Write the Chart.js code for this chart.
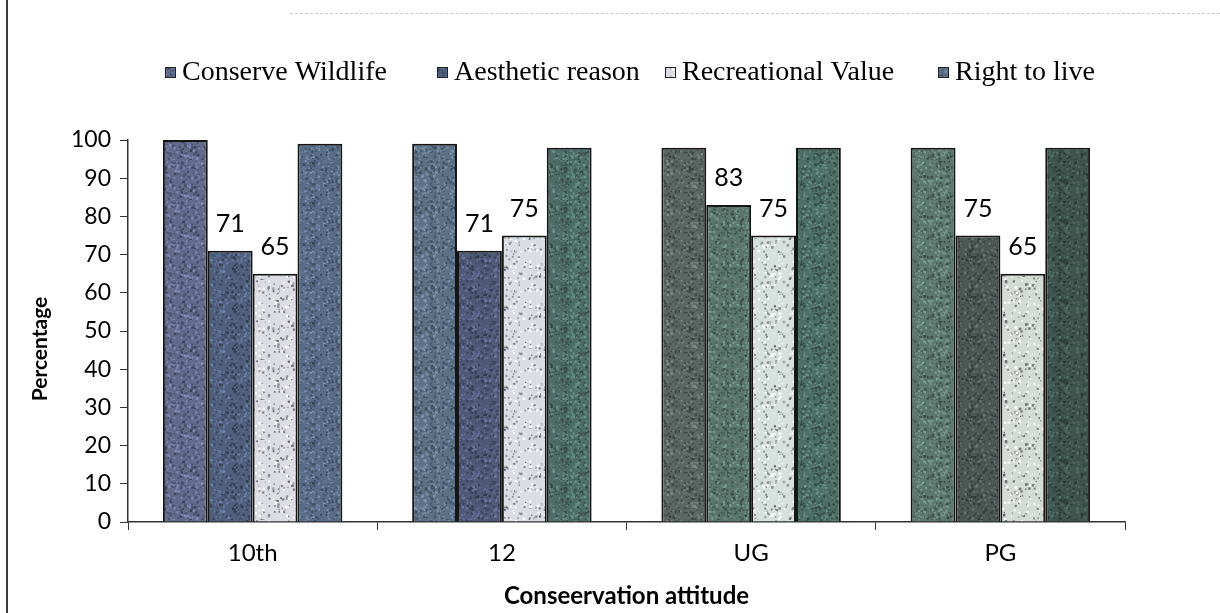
<!DOCTYPE html>
<html>
<head>
<meta charset="utf-8">
<script src="https://cdn.jsdelivr.net/npm/chart.js@4.4.1/dist/chart.umd.min.js"></script>
<style>
  html, body { margin: 0; padding: 0; background: #ffffff; }
  #wrap { position: relative; width: 1220px; height: 613px; overflow: hidden; }
  #edge { position: absolute; left: 6px; top: 0; width: 2px; height: 613px; background: #3a3a3a; }
  #topline { position: absolute; left: 290px; top: 13px; width: 930px; height: 0; border-top: 1px dashed #c8c8c8; }
  canvas { position: absolute; left: 0; top: 0; }
</style>
</head>
<body>
<div id="wrap">
  <canvas id="chart" width="1220" height="613"></canvas>
  <div id="edge"></div>
  <div id="topline"></div>
</div>
<script>
// Education levels on the x axis
const categories = ['10th', '12', 'UG', 'PG'];

// Percentage of respondents per reason
const conserveWildlife  = [100, 99, 98, 98];
const aestheticReason   = [71, 71, 83, 75];
const recreationalValue = [65, 75, 75, 65];
const rightToLive       = [99, 98, 98, 98];

const seriesNames = ['Conserve Wildlife', 'Aesthetic reason', 'Recreational Value', 'Right to live'];
const yTicks = [0, 10, 20, 30, 40, 50, 60, 70, 80, 90, 100];
const yTitle = 'Percentage';

// Base tints for each bar (rows = series, columns = categories)
const tints = [
  ['#626b8c', '#5d7186', '#5c6763', '#5c776d'],
  ['#4f5f7c', '#505a78', '#5b776d', '#4c5854'],
  ['#dcdde4', '#dadde4', '#d6e0dc', '#d4dbd5'],
  ['#5a6d88', '#4e6d67', '#4e6f65', '#3e544d']
];

// Deterministic speckle so the bars get a grainy print texture
function lcg(seed) {
  let s = seed >>> 0;
  return () => { s = (s * 1664525 + 1013904223) >>> 0; return s / 4294967296; };
}
function shade(hex, f) {
  const n = parseInt(hex.slice(1), 16);
  const r = (n >> 16) & 255, g = (n >> 8) & 255, b = n & 255;
  const m = c => Math.max(0, Math.min(255, Math.round(c * f)));
  return `rgb(${m(r)},${m(g)},${m(b)})`;
}
function speckle(base, seed, light) {
  const c = document.createElement('canvas');
  c.width = 40; c.height = 40;
  const x = c.getContext('2d');
  x.fillStyle = base; x.fillRect(0, 0, 40, 40);
  const rnd = lcg(seed);
  const count = light ? 90 : 220;
  for (let i = 0; i < count; i++) {
    const px = rnd() * 40, py = rnd() * 40, sz = 1 + rnd() * 1.6;
    const dark = rnd() < 0.55;
    x.fillStyle = light
      ? (dark ? shade(base, 0.45 + rnd() * 0.3) : '#ffffff')
      : (dark ? shade(base, 0.6 + rnd() * 0.25) : shade(base, 1.15 + rnd() * 0.25));
    x.fillRect(px, py, sz, sz);
  }
  return x.createPattern(c, 'repeat');
}
const ctx = document.getElementById('chart').getContext('2d');
const fills = tints.map((row, si) => row.map((t, ci) => speckle(t, 17 + si * 31 + ci * 7, si === 2)));

const allSeries = [conserveWildlife, aestheticReason, recreationalValue, rightToLive];
const labelled = [false, true, true, false];

// Value labels above the Aesthetic and Recreational bars
const valueLabels = {
  id: 'valueLabels',
  afterDatasetsDraw(chart) {
    const c = chart.ctx;
    c.save();
    c.font = '25px Lato';
    c.fillStyle = '#000';
    c.textAlign = 'center';
    c.textBaseline = 'middle';
    chart.data.datasets.forEach((ds, i) => {
      if (!labelled[i]) return;
      chart.getDatasetMeta(i).data.forEach((bar, j) => {
        c.fillText(String(ds.data[j]), bar.x, bar.y - 27);
      });
    });
    c.restore();
  }
};

// Legend row in serif type with small square keys, plus the rotated y title
const legendStarts = [165, 437, 665, 938];
const serifLegend = {
  id: 'serifLegend',
  afterDraw(chart) {
    const c = chart.ctx;
    c.save();
    c.font = '28px "Liberation Serif"';
    c.textBaseline = 'middle';
    c.textAlign = 'left';
    const y = 72;
    seriesNames.forEach((name, i) => {
      const x = legendStarts[i];
      c.fillStyle = speckle(tints[i][0], 99 + i, i === 2);
      c.fillRect(x, y - 5, 11, 11);
      c.strokeStyle = '#222';
      c.lineWidth = 1;
      c.strokeRect(x + 0.5, y - 4.5, 10, 10);
      c.fillStyle = '#000';
      c.fillText(name, x + 17, y + 1);
    });
    c.translate(40, 349);
    c.rotate(-Math.PI / 2);
    c.textAlign = 'center';
    c.font = 'bold 21px Lato';
    c.fillText(yTitle, 0, 0);
    c.restore();
  }
};

new Chart(ctx, {
  type: 'bar',
  data: {
    labels: categories,
    datasets: allSeries.map((vals, i) => ({
      label: seriesNames[i],
      data: vals,
      backgroundColor: fills[i],
      borderColor: '#161616',
      borderWidth: 2,
      borderSkipped: 'bottom',
      categoryPercentage: 0.72,
      barPercentage: 1.0
    }))
  },
  options: {
    responsive: false,
    animation: false,
    layout: { padding: { top: 140, right: 95, bottom: 0, left: 0 } },
    plugins: {
      legend: { display: false },
      tooltip: { enabled: false }
    },
    scales: {
      x: {
        grid: { display: true, drawOnChartArea: false, drawTicks: true, tickLength: 8, color: '#333', offset: true },
        border: { display: true, color: '#333', width: 1.5 },
        ticks: { color: '#000', font: { family: 'Lato', size: 24 }, padding: 9 },
        title: { display: true, text: 'Conseervation attitude', color: '#000',
                 font: { family: 'Lato', size: 24, weight: 'bold' }, padding: { top: 0, bottom: 2 } },
        afterFit(scale) { scale.height = 91; }
      },
      y: {
        min: 0, max: 100,
        afterBuildTicks(scale) { scale.ticks = yTicks.map(v => ({ value: v })); },
        grid: { display: true, drawOnChartArea: false, drawTicks: true, tickLength: 8, color: '#333' },
        border: { display: true, color: '#333', width: 1.5 },
        ticks: { color: '#000', font: { family: 'Lato', size: 23 }, padding: 9 },
        title: { display: false },
        afterFit(scale) { scale.width = 128; }
      }
    }
  },
  plugins: [valueLabels, serifLegend]
});
</script>
</body>
</html>
